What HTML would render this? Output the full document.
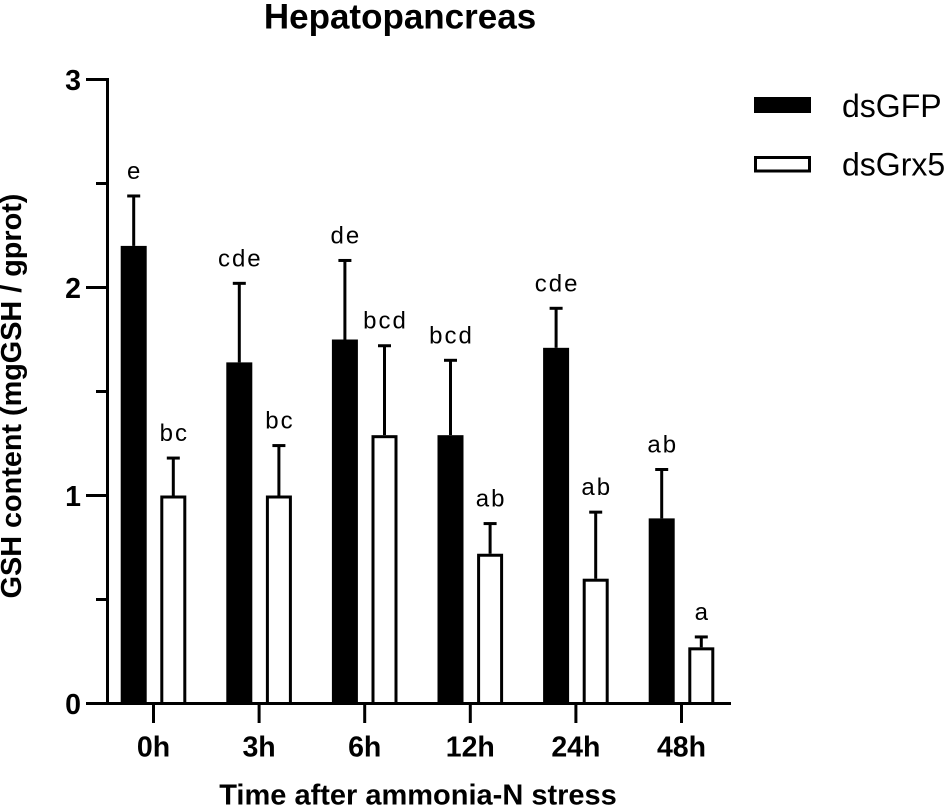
<!DOCTYPE html>
<html><head><meta charset="utf-8"><style>
html,body{margin:0;padding:0;background:#fff;width:945px;height:806px;overflow:hidden}
svg{display:block}
text{font-family:"Liberation Sans",Arial,sans-serif;fill:#000}
</style></head><body>
<svg id="chart" width="945" height="806" viewBox="0 0 945 806" xmlns="http://www.w3.org/2000/svg"></svg>
<script>
const categories = ['0h','3h','6h','12h','24h','48h'];
const dsGFP = [2.2,1.64,1.75,1.29,1.71,0.89];
const dsGFPErrorTop = [2.44,2.02,2.13,1.65,1.90,1.125];
const dsGFPLetters = ['e','cde','de','bcd','cde','ab'];
const dsGrx5 = [1.0,1.0,1.29,0.72,0.60,0.27];
const dsGrx5ErrorTop = [1.18,1.24,1.72,0.865,0.92,0.32];
const dsGrx5Letters = ['bc','bc','bcd','ab','ab','a'];
const majorTicks = [0,1,2,3];
const minorTicks = [0.5,1.5,2.5];

const svg = document.getElementById('chart');
const NS = 'http://www.w3.org/2000/svg';
const Y0 = 703.5, PX_PER_UNIT = 208;
const yScale = v => Y0 - v * PX_PER_UNIT;
const xScale = i => 153.5 + i * 105.6;
const BAR_OFFSET = 19.8, BAR_W = 26;

function add(tag, attrs, text) {
  const el = document.createElementNS(NS, tag);
  for (const k in attrs) el.setAttribute(k, attrs[k]);
  if (text !== undefined) el.textContent = text;
  svg.appendChild(el);
  return el;
}
function line(x1, y1, x2, y2, w) {
  return add('line', {x1, y1, x2, y2, stroke:'#000', 'stroke-width':w});
}

let el;
el = add('text', {x:400, y:28.5, 'font-size':35, 'font-weight':'bold', 'text-anchor':'middle'}, 'Hepatopancreas');



categories.forEach((cat, i) => {
  const cx = xScale(i);
  const gx = cx - BAR_OFFSET, wx = cx + BAR_OFFSET;

  const gErr = line(gx, yScale(dsGFP[i]), gx, yScale(dsGFPErrorTop[i]), 3);
  
  
  const gCap = line(gx - 6.5, yScale(dsGFPErrorTop[i]), gx + 6.5, yScale(dsGFPErrorTop[i]), 3);
  
  
  const gBar = add('rect', {x:gx - BAR_W/2, y:yScale(dsGFP[i]), width:BAR_W, height:Y0 - yScale(dsGFP[i]), fill:'#000'});
  
  
  const gLab = add('text', {x:gx + 1, y:yScale(dsGFPErrorTop[i]) - 17, 'font-size':24, 'text-anchor':'middle', 'letter-spacing':'2px'}, dsGFPLetters[i]);
  
  

  const wErr = line(wx, yScale(dsGrx5[i]), wx, yScale(dsGrx5ErrorTop[i]), 3);
  
  
  const wCap = line(wx - 6.5, yScale(dsGrx5ErrorTop[i]), wx + 6.5, yScale(dsGrx5ErrorTop[i]), 3);
  
  
  const wBar = add('rect', {x:wx - BAR_W/2 + 1.5, y:yScale(dsGrx5[i]) + 1.5, width:BAR_W - 3, height:Y0 - yScale(dsGrx5[i]) - 1.5, fill:'#fff', stroke:'#000', 'stroke-width':3});
  
  
  const wLab = add('text', {x:wx + 1, y:yScale(dsGrx5ErrorTop[i]) - 17, 'font-size':24, 'text-anchor':'middle', 'letter-spacing':'2px'}, dsGrx5Letters[i]);
  
  

  const tick = line(cx, Y0, cx, 723, 3);
  
  
  const lab = add('text', {x:cx, y:756.5, 'font-size':28.5, 'font-weight':'bold', 'text-anchor':'middle'}, cat);
  
  
});

const yAxis = line(107.5, yScale(3) - 1.5, 107.5, Y0 + 1.5, 3);


const xAxis = line(86, Y0, 731, Y0, 3);



majorTicks.forEach(v => {
  if (v !== 0) {
    const t = line(86, yScale(v), 107.5, yScale(v), 3);
    
    
  }
  const l = add('text', {x:81, y:yScale(v) + 10.5, 'font-size':28.5, 'font-weight':'bold', 'text-anchor':'end'}, String(v));
  
  
});
minorTicks.forEach(v => {
  const t = line(96, yScale(v), 107.5, yScale(v), 3);
  
  
});

el = add('text', {x:0, y:0, 'font-size':28.8, 'font-weight':'bold', 'text-anchor':'middle', transform:'translate(21,396) rotate(-90)'}, 'GSH content (mgGSH / gprot)');


el = add('text', {x:418, y:804.5, 'font-size':29, 'font-weight':'bold', 'text-anchor':'middle'}, 'Time after ammonia-N stress');



el = add('rect', {x:754, y:97, width:57, height:16, fill:'#000'});


el = add('text', {x:842, y:117, 'font-size':32}, 'dsGFP');


el = add('rect', {x:755.5, y:157.5, width:54, height:13.5, fill:'#fff', stroke:'#000', 'stroke-width':3});


el = add('text', {x:842, y:175.5, 'font-size':32}, 'dsGrx5');


</script>
</body></html>
